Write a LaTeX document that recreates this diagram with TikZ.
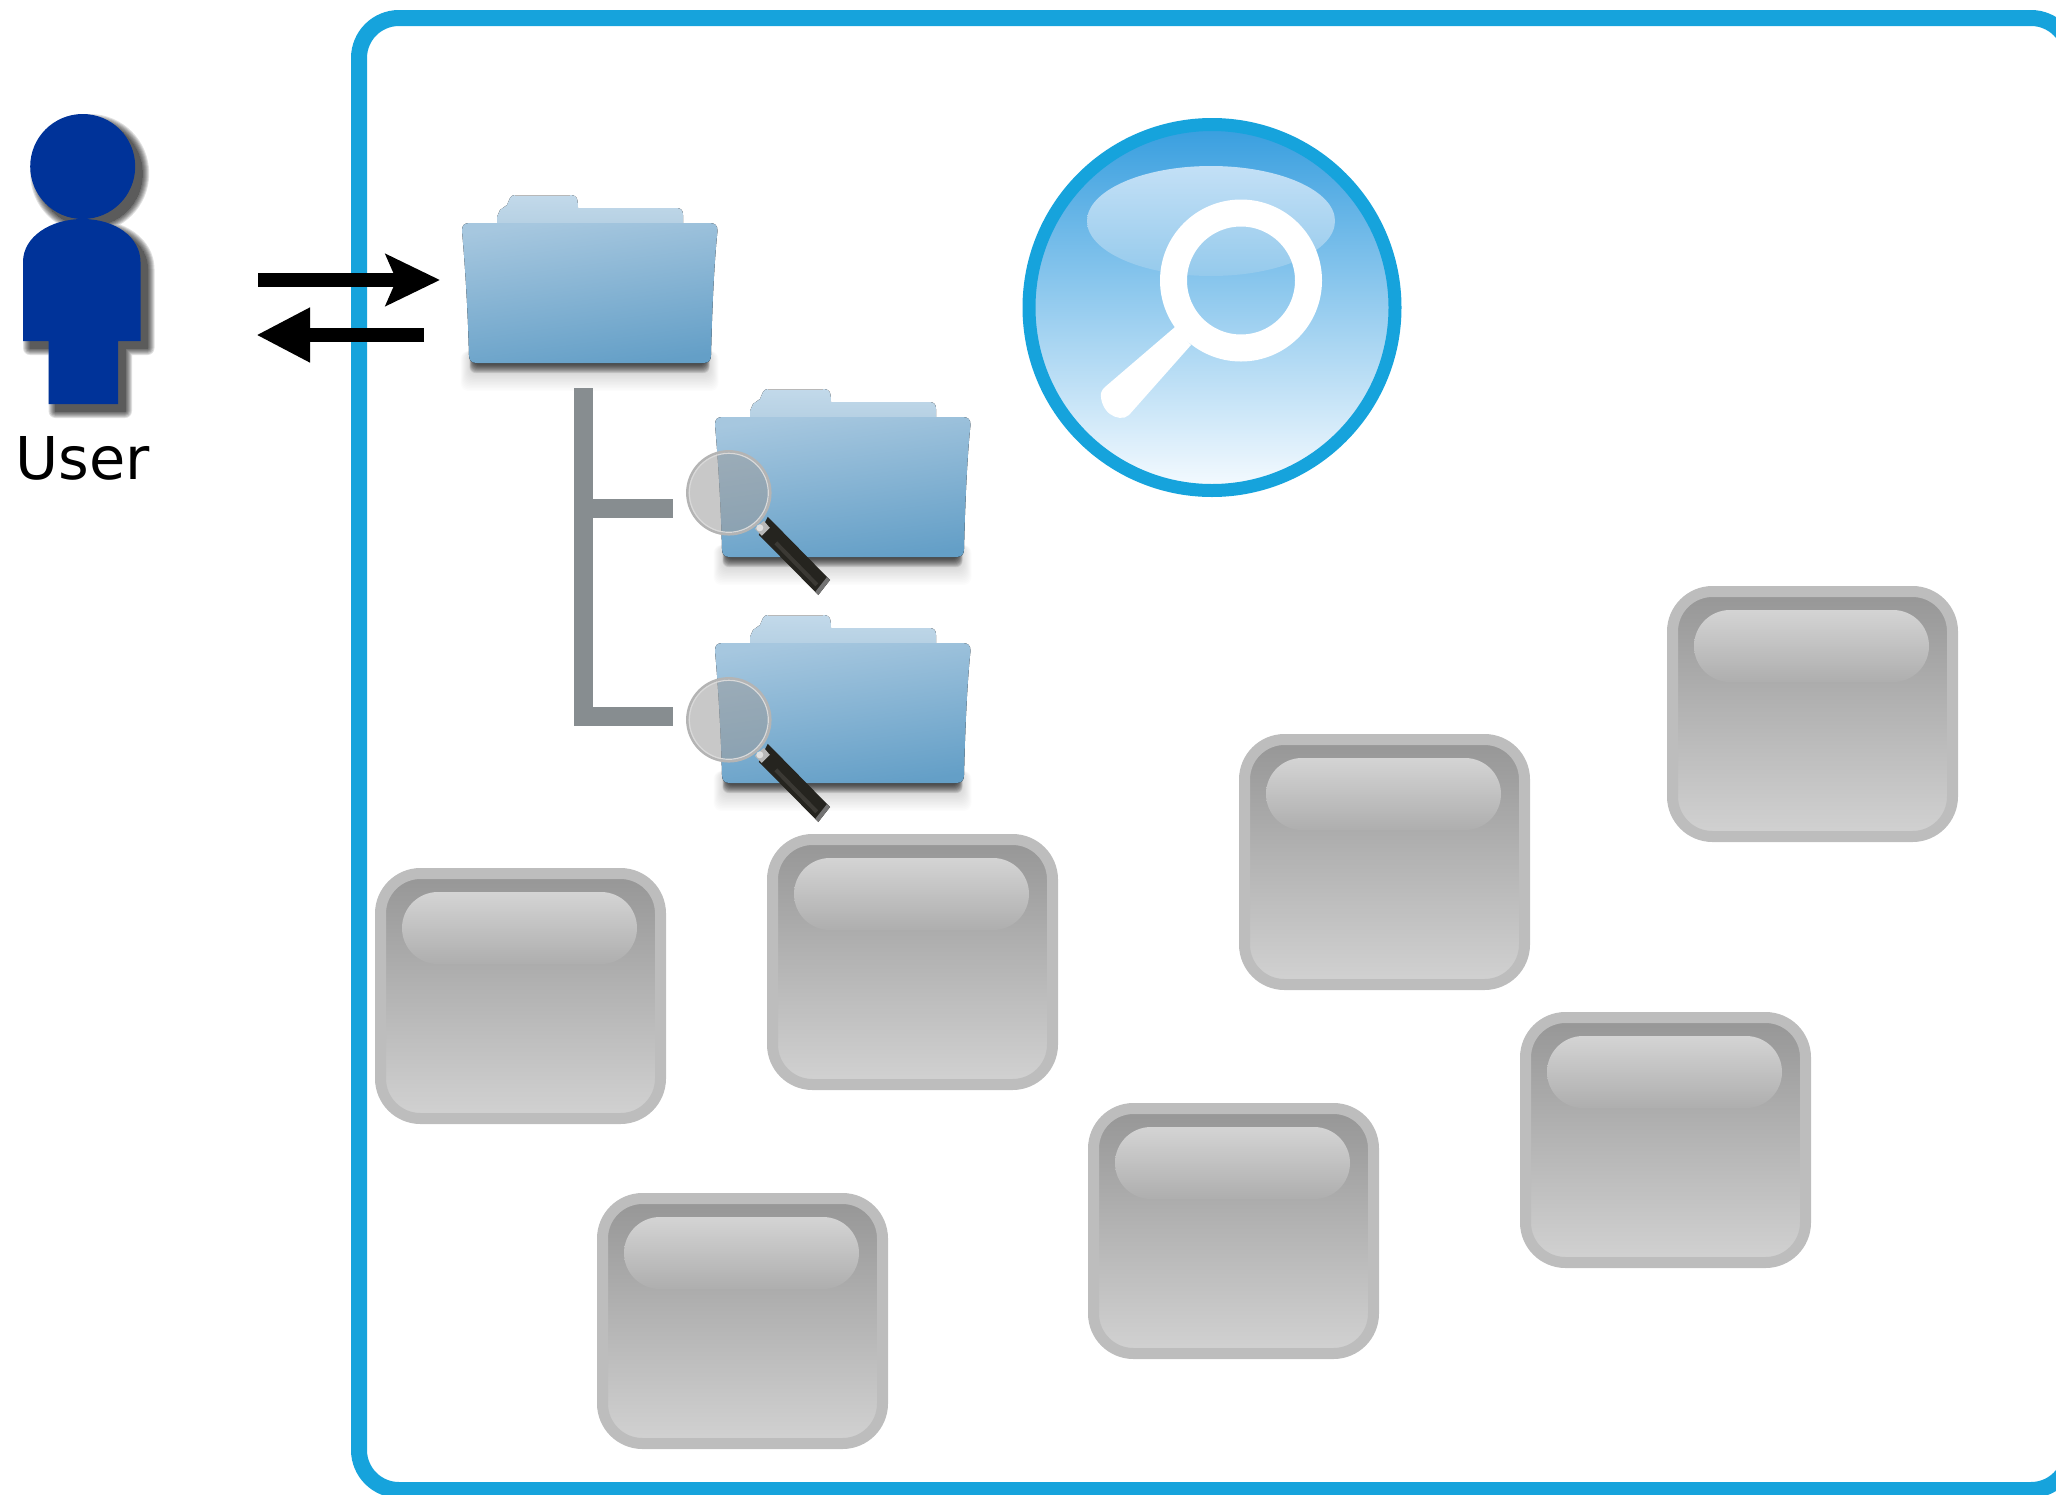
\documentclass[tikz,border=0pt]{standalone}
\usepackage{fontspec}
\setmainfont{DejaVu Sans}
\usetikzlibrary{arrows.meta}
\definecolor{framecol}{HTML}{16A3DC}
\definecolor{personcol}{HTML}{003399}
\definecolor{treecol}{HTML}{878D90}
\definecolor{btnedge}{HTML}{BDBDBD}
\definecolor{btntop}{HTML}{969696}
\definecolor{btnbot}{HTML}{D2D2D2}
\definecolor{shinetop}{HTML}{D4D4D4}
\definecolor{shinebot}{HTML}{AEAEAE}
\definecolor{tabtop}{HTML}{C2D9EA}
\definecolor{tabbot}{HTML}{B4CFE2}
\definecolor{foldertop}{HTML}{A6C7DF}
\definecolor{folderbot}{HTML}{649FC7}
\definecolor{handlecol}{HTML}{25241F}
\definecolor{handlelight}{HTML}{3B3934}
\definecolor{ferrule}{HTML}{B8B8B8}
\definecolor{lensglass}{HTML}{9C9C9C}
\definecolor{lensring}{HTML}{B4B4B4}
\definecolor{disctop}{HTML}{379EDF}
\definecolor{discbot}{HTML}{F6FBFF}
\definecolor{glosstop}{HTML}{C3E0F6}
\definecolor{glossbot}{HTML}{95CAEC}
\tikzset{
  x=1pt,y=-1pt,
  frameline/.style={draw=framecol,line width=16pt,rounded corners=40pt},
  flowline/.style={line width=13.5pt,black},
  treeline/.style={line width=19pt,treecol},
  btn/.style={draw=btnedge,line width=11pt,rounded corners=40pt,minimum width=280pt,minimum height=245pt,
    inner sep=0pt,outer sep=5.5pt,anchor=north west,top color=btntop,bottom color=btnbot},
  btnshine/.style={rounded corners=36pt,minimum width=235pt,minimum height=72pt,inner sep=0pt,outer sep=0pt,
    anchor=north west,top color=shinetop,bottom color=shinebot},
  btnpic/.pic={
    \node[btn] (-base) at (0,0) {};
    \node[btnshine] (-shine) at (27,24) {};
  },
  folderpic/.pic={
    \foreach \d in {9,10.5,...,27}{
      \fill[black,opacity=.012,rounded corners=8pt] ({12-.5*\d},128) rectangle ({243+.5*\d},{141+\d});
    }
    \foreach \d in {1,2,...,9}{
      \fill[black,opacity=.105,rounded corners=6pt] ({12-.5*\d},128) rectangle ({243+.5*\d},{141+\d});
    }
    \fill[top color=tabtop,bottom color=tabbot]
      (35,6) -- (35,-6) -- (38,-13) -- (45,-18) -- (48,-25) .. controls (49,-27) and (51,-28) .. (53,-28)
      -- (108,-28) .. controls (114,-28) and (116,-26) .. (116,-15) -- (214,-15) .. controls (219,-15) and (221,-13) .. (221,-8) -- (221,6) -- cycle;
    \draw[black!28,line width=1pt] (53,-28) -- (108,-28);
    \fill[top color=foldertop,bottom color=folderbot,shading angle=8]
      (0,8) .. controls (0,2) and (2,0) .. (8,0) -- (247,0) .. controls (253,0) and (255.5,2) .. (255.5,8)
      .. controls (252,40) and (250,90) .. (249,132) .. controls (249,138) and (246,140) .. (241,140)
      -- (15,140) .. controls (10,140) and (7,138) .. (7,132) .. controls (6,90) and (3,40) .. (0,8) -- cycle;
  },
  lenspic/.pic={
    \fill[handlecol] (39,24) -- (101.2,87.2) -- (89.5,102.2) -- (30,42) -- cycle;
    \draw[handlelight,line width=4pt] (47,50) -- (88,92);
    \fill[black!55] (86.5,99) -- (89.5,102.2) -- (101.2,87.2) -- (98.2,84.2) -- cycle;
    \fill[ferrule] (26,36) -- (35,28) -- (41,35) -- (33,43) -- cycle;
    \fill[white!88!black] (31,35) circle (3.5);
    \fill[lensglass,fill opacity=.556] (0,0) circle (41);
    \draw[lensring,line width=2.5pt] (0,0) circle (41.5);
    \draw[white!85!black,line width=1.2pt] (0,0) circle (39.5);
  }
}
\newcommand{\bodyoutline}{(23,341) -- (23,262) .. controls (23,237) and (50,219) .. (82.7,219)
  .. controls (115,219) and (140.5,237) .. (140.5,262) -- (140.5,341) -- (118,341) -- (118,404) -- (48.5,404) -- (48.5,341) -- cycle}
\begin{document}
\begin{tikzpicture}
\useasboundingbox (0,0) rectangle (2056,1494);

% enclosing frame
\draw[frameline] (359,18) rectangle (2071,1490);

% user figure
\begin{scope}[shift={(7,7)}]
  \foreach \w in {0,2,...,14}{
    \begin{scope}[transparency group,opacity=.12]
      \filldraw[black,line width=\w pt,line join=round] (82.7,166.5) circle (52.5) \bodyoutline;
    \end{scope}
  }
\end{scope}
\fill[personcol] (82.7,166.5) circle (52.5);
\fill[personcol] \bodyoutline;
\node[font=\fontsize{59}{70}\selectfont,anchor=base,inner sep=0pt] (user) at (83,479) {User};

% folders
\pic (rootfolder) at (462,223) {folderpic};
\pic (subfolderA) at (715,417) {folderpic};
\pic (subfolderB) at (715,643) {folderpic};

% tree
\coordinate (treetop) at (583.5,388);
\coordinate (leafA) at (673,508.5);
\coordinate (leafB) at (673,716.5);
\draw[treeline] (treetop) |- (leafB);
\draw[treeline] (treetop |- leafA) -- (leafA);

% lenses
\pic (lensA) at (728.8,492.8) {lenspic};
\pic (lensB) at (728.8,719.8) {lenspic};

% arrows
\coordinate (inStart) at (258,280);
\coordinate (inEnd) at (440,280);
\coordinate (outStart) at (424,335);
\coordinate (outEnd) at (256,335);
\draw[flowline,-{Stealth[length=54pt,width=51pt,inset=10.5pt]}] (inStart) -- (inEnd);
\draw[flowline,-{Stealth[length=54pt,width=51pt,inset=0pt]}] (outStart) -- (outEnd);

% search disc
\shade[top color=disctop,bottom color=discbot] (1212,307.5) circle (183);
\shade[top color=glosstop,bottom color=glossbot] (1211,221) ellipse (124 and 55);
\draw[framecol,line width=13pt] (1212,307.5) circle (183);
\draw[white,line width=27pt] (1241,280.5) circle (67.5);
\fill[white] (1175,327) -- (1191,345) -- (1129,415) .. controls (1124,420) and (1115,418) .. (1110,414)
  .. controls (1104,410) and (1100,400) .. (1101,393) .. controls (1102,390) and (1103,389) .. (1105,387) -- cycle;

% buttons
\pic (btnA) at (375,868) {btnpic};
\pic (btnB) at (767,834) {btnpic};
\pic (btnC) at (1239,734) {btnpic};
\pic (btnD) at (1667,586) {btnpic};
\pic (btnE) at (1520,1012) {btnpic};
\pic (btnF) at (1088,1103) {btnpic};
\pic (btnG) at (597,1193) {btnpic};
\end{tikzpicture}
\end{document}
